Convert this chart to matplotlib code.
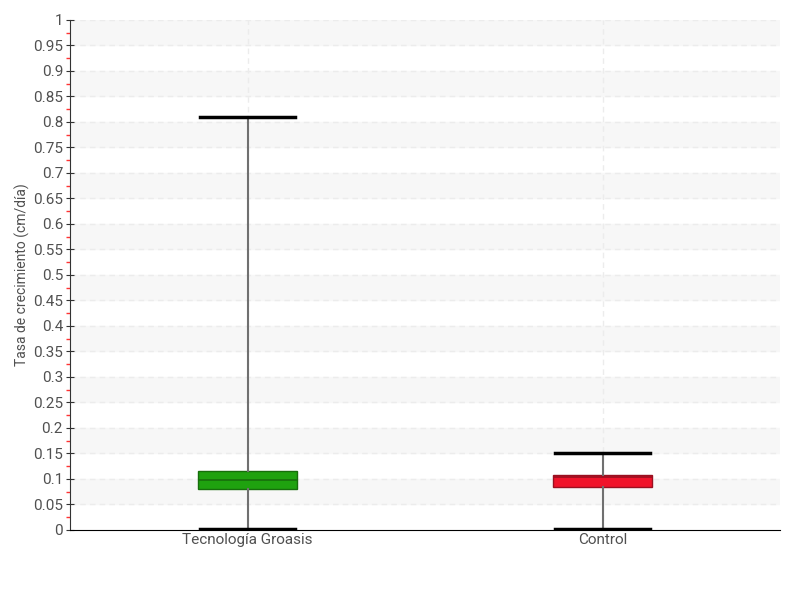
import numpy as np
import matplotlib
matplotlib.use("Agg")
import matplotlib.pyplot as plt
from matplotlib.ticker import MultipleLocator

plt.rcParams['font.family'] = ['Roboto', 'DejaVu Sans']

groups = ['Tecnología Groasis', 'Control']
whislo = [0.002, 0.002]
q1 = [0.080, 0.084]
med = [0.098, 0.104]
q3 = [0.116, 0.108]
whishi = [0.810, 0.151]
colors = ['#1fa20f', '#f0132a']
edges = ['#176e0c', '#9a1020']

fig = plt.figure(figsize=(8, 6), dpi=100)
ax = fig.add_axes([0.0875, 0.1167, 0.8875, 0.85])

# bandas alternas
for y0 in np.arange(0.05, 1.0, 0.1):
    ax.axhspan(y0, y0 + 0.05, color='#f7f7f7', zorder=0)
for y in np.arange(0.05, 1.01, 0.05):
    ax.axhline(y, color='#ececec', lw=1, ls=(0, (4, 3)), zorder=0.5)

pos = [0.5, 1.5]
for p in pos:
    ax.axvline(p, color='#ececec', lw=1, ls=(0, (4, 3)), zorder=0.5)

stats = []
for i, g in enumerate(groups):
    stats.append(dict(label=g, whislo=whislo[i], q1=q1[i], med=med[i],
                      q3=q3[i], whishi=whishi[i], fliers=[]))

bp = ax.bxp(stats, positions=pos, widths=0.28, patch_artist=True,
            showfliers=False, capwidths=0.27,
            whiskerprops=dict(color='#707070', lw=1.5),
            capprops=dict(color='black', lw=2.5))
for i, b in enumerate(bp['boxes']):
    b.set_facecolor(colors[i])
    b.set_edgecolor(edges[i])
    b.set_linewidth(1)
for i, m in enumerate(bp['medians']):
    m.set_color(edges[i])
    m.set_linewidth(1.2)

ax.set_xlim(0, 2)
ax.set_ylim(0, 1)
ax.set_xticks(pos)
ax.set_xticklabels(groups)
ax.yaxis.set_major_locator(MultipleLocator(0.05))
ax.yaxis.set_minor_locator(MultipleLocator(0.025))
ax.set_yticklabels(['%g' % round(v, 2) for v in ax.get_yticks()])
ax.tick_params(axis='y', which='major', direction='inout', length=6, color='#333333',
               labelsize=11, labelcolor='#505050', pad=2)
ax.tick_params(axis='y', which='minor', direction='out', length=3, width=1, color='#ff3333')
ax.tick_params(axis='x', length=0, labelsize=11, labelcolor='#505050', pad=2)

for s in ['top', 'right']:
    ax.spines[s].set_visible(False)
ax.spines['left'].set_color('#333333')
ax.spines['bottom'].set_color('black')

ax.set_ylabel('Tasa de crecimiento (cm/día)', fontsize=10, color='#505050', labelpad=2)

fig.savefig('out.png', dpi=100)
